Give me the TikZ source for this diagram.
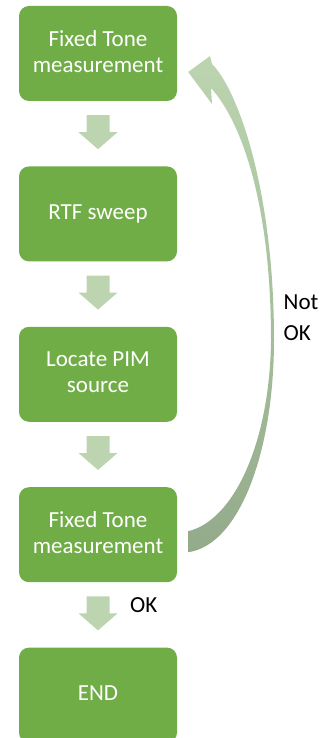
\documentclass[tikz,border=0pt]{standalone}
\usepackage{fontspec}
\setmainfont{Carlito}
\usetikzlibrary{positioning,calc}
\definecolor{boxgreen}{HTML}{70AD47}
\definecolor{stepgreen}{HTML}{BCD5B0}
\definecolor{loopdark}{HTML}{93AB8A}
\tikzstyle{block} = [rectangle, fill=boxgreen, text=white, minimum width=158pt,
minimum height=95pt, rounded corners=10pt, align=center, text depth=4.5pt,
font=\fontsize{23}{26}\selectfont]
\tikzstyle{tag} = [inner sep=0pt, align=left, font=\fontsize{23}{31}\selectfont]
% fat down arrow halfway between two blocks
\newcommand{\stepdown}[2]{%
  \fill[stepgreen] ($(#1.south)!0.5!(#2.north)$) ++(-11.5,-18.5) -- ++(23,0) -- ++(0,17)
    -- ++(8,0) -- ++(-19.5,17) -- ++(-19.5,-17) -- ++(8,0) -- cycle;}

\begin{document}
\begin{tikzpicture}[x=1pt, y=-1pt, node distance=65pt]
	\useasboundingbox (0,0) rectangle (333,738);
	% Place nodes
	\node [block] (fix1) at (98,53.5) {Fixed Tone\\measurement};
	\node [block, below=of fix1] (rtf) {RTF sweep};
	\node [block, below=of rtf] (locate) {Locate PIM\\source};
	\node [block, below=of locate] (fix2) {Fixed Tone\\measurement};
	\node [block, below=of fix2] (finish) {END};

	\stepdown{fix1}{rtf}
	\stepdown{rtf}{locate}
	\stepdown{locate}{fix2}
	\stepdown{fix2}{finish}
	\node [tag, anchor=west] (oklabel) at (130,605.5) {OK};

	% loop back when the second measurement fails
	\path (fix2.east) ++(11,17.5) coordinate (tailout) ++(0,-21) coordinate (tailin);
	\path (fix1.east) ++(11,18.5) coordinate (tip);
	\shade[top color=stepgreen, middle color=stepgreen!92!loopdark, bottom color=loopdark]
	  (tailout) .. controls (240,545) and (274,450) .. (274,340)
	  .. controls (274,190) and (238,90) .. (212,64)
	  -- (210,56) -- (tip) -- (212,104) -- (211,88)
	  .. controls (240,120) and (271,200) .. (271,340)
	  .. controls (270,440) and (235,520) .. (tailin) -- cycle;
	\node [tag, anchor=north west] (notok) at (283.5,295) {Not\\OK};
\end{tikzpicture}
\end{document}
